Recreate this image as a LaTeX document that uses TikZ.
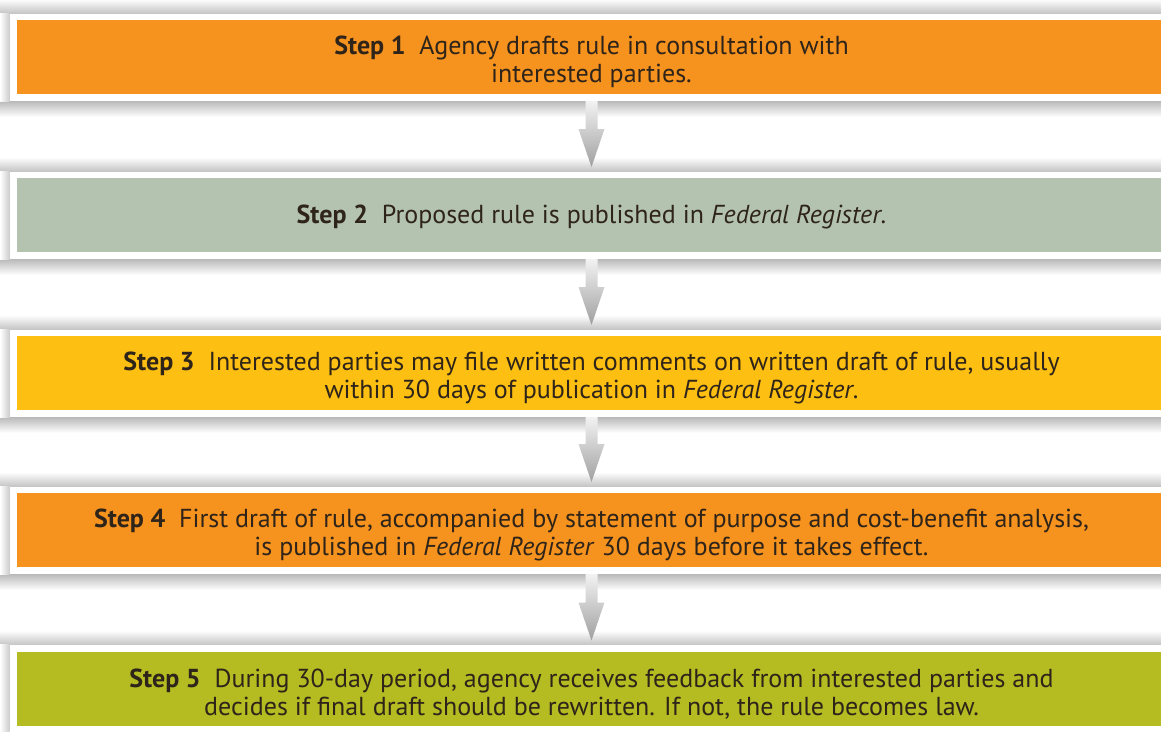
\documentclass[tikz,border=0pt]{standalone}
\usepackage{fontspec}
\setmainfont{PT Sans}
\usetikzlibrary{calc}
\definecolor{steporange}{HTML}{F6921E}
\definecolor{stepsage}{HTML}{B4C3AF}
\definecolor{stepyellow}{HTML}{FDBF12}
\definecolor{stepolive}{HTML}{B4BC22}
\definecolor{steptext}{HTML}{2E241A}
\tikzset{
  stepbox/.style={draw=white, line width=7pt, minimum width=1157pt, minimum height=81pt,
    inner sep=0pt, align=center, text=steptext, font=\fontsize{26}{28}\selectfont,
    text height=22pt},
  twoline/.style={text height=57pt},
  flowarrow/.style={top color=gray!10, bottom color=gray!75},
}
\begin{document}
\begin{tikzpicture}[x=1pt,y=-1pt]
\useasboundingbox (0,0) rectangle (1161,731);
\node[stepbox, twoline, fill=steporange] (s1) at (591.5,57) {\textbf{Step 1}\ \ Agency drafts rule in consultation with\\interested parties.};
\node[stepbox, fill=stepsage] (s2) at (591.5,215) {\textbf{Step 2}\ \ Proposed rule is published in \textit{Federal Register}.};
\node[stepbox, twoline, fill=stepyellow] (s3) at (591.5,373) {\textbf{Step 3}\ \ Interested parties may file written comments on written draft of rule, usually\\within 30 days of publication in \textit{Federal Register}.};
\node[stepbox, twoline, fill=steporange] (s4) at (591.5,530) {\textbf{Step 4}\ \ First draft of rule, accompanied by statement of purpose and cost-benefit analysis,\\is published in \textit{Federal Register} 30 days before it takes effect.};
\node[stepbox, twoline, fill=stepolive] (s5) at (591.5,688.5) {\textbf{Step 5}\ \ During 30-day period, agency receives feedback from interested parties and\\decides if final draft should be rewritten. If not, the rule becomes law.};
\foreach \b in {s1,s2,s3,s4,s5} {
  \shade[top color=gray!55, bottom color=white] let \p1=(\b.south west) in (0pt,\y1) rectangle (1161pt,\y1-16pt);
  \shade[top color=white, bottom color=gray!45] let \p1=(\b.north west) in (0pt,\y1+14pt) rectangle (1161pt,\y1);
  \shade[left color=white, right color=gray!40] let \p1=(\b.north west), \p2=(\b.south west) in (0pt,\y1) rectangle (\x1,\y2);
}
\foreach \a/\b in {s1/s2,s2/s3,s3/s4,s4/s5}
  \shade[flowarrow] let \p1=(\a.south), \p2=(\b.north) in
    (\x1-6pt,\y1) -- (\x1+6pt,\y1) -- (\x1+6pt,\y2+42pt) -- (\x1+13pt,\y2+42pt)
    -- (\x1,\y2+4pt) -- (\x1-13pt,\y2+42pt) -- (\x1-6pt,\y2+42pt) -- cycle;
\end{tikzpicture}
\end{document}
